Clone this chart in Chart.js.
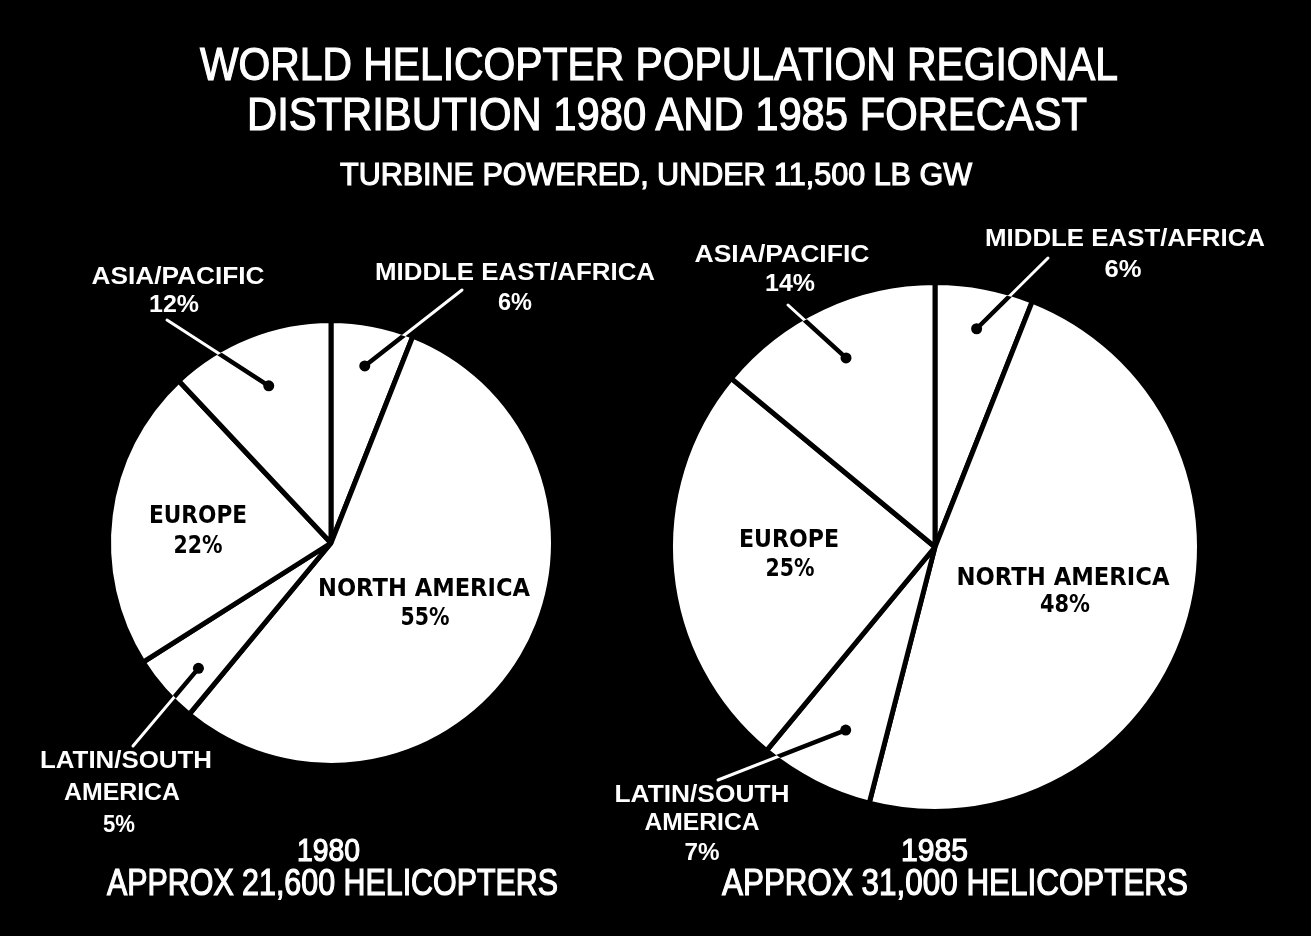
<!DOCTYPE html>
<html><head><meta charset="utf-8">
<script src="https://cdn.jsdelivr.net/npm/chart.js@4"></script>
<style>
html,body{margin:0;padding:0;background:#000;width:1311px;height:936px;overflow:hidden;}
canvas{position:absolute;left:0;top:0;}
.t{position:absolute;color:#fff;font-family:"Liberation Sans",Arial,sans-serif;white-space:nowrap;transform-origin:0 0;line-height:1;}
</style></head><body>
<canvas id="c1" width="1311" height="936"></canvas>
<canvas id="c2" width="1311" height="936"></canvas>
<div id="texts"></div>
<script>
// ---------- DATA ----------
const regions = ["MIDDLE EAST/AFRICA", "NORTH AMERICA", "LATIN/SOUTH AMERICA", "EUROPE", "ASIA/PACIFIC"];
const share1980 = [6, 55, 5, 22, 12];
const share1985 = [6, 48, 7, 25, 14];
const years = ["1980", "1985"];
const fleetTotals = ["21,600", "31,000"];
const titleLines = ["WORLD HELICOPTER POPULATION REGIONAL", "DISTRIBUTION " + years[0] + " AND " + years[1] + " FORECAST"];
const subtitle = "TURBINE POWERED, UNDER 11,500 LB GW";

// ---------- LAYOUT ----------
const regionLines = regions.map(s => s === "LATIN/SOUTH AMERICA" ? ["LATIN/SOUTH", "AMERICA"] : [s]);
const inside = [false, true, false, true, false];

// per chart callout layout: lines [cx, baseline, width], lead start, dot fraction, angle offset
const layout1980 = {
  pad: {left: 106, right: 755, top: 318, bottom: 168},
  items: [
    {i: 0, pos: [[515, 280, 280], [515, 310, 34]], lead: [462, 290], f: 0.81},
    {i: 1, pos: [[424, 596, 212], [425, 625, 49]]},
    {i: 2, pos: [[126, 768, 172], [122, 800, 116], [119, 832, 32]], lead: [133, 746], f: 0.82, da: -2},
    {i: 3, pos: [[198, 523, 98], [198, 553, 49]]},
    {i: 4, pos: [[178, 284, 173], [174, 312, 50]], lead: [167, 320], f: 0.76}
  ]
};
const layout1985 = {
  pad: {left: 668, right: 109, top: 280, bottom: 122},
  items: [
    {i: 0, pos: [[1125, 246, 280], [1123, 277, 37]], lead: [1048, 258], f: 0.84},
    {i: 1, pos: [[1063, 585, 213], [1065, 612, 50]]},
    {i: 2, pos: [[702, 802, 175], [702, 830, 115], [702, 860, 35]], lead: [718, 780], f: 0.77, da: -1},
    {i: 3, pos: [[789, 547, 100], [790, 576, 49]]},
    {i: 4, pos: [[782, 262, 175], [790, 291, 50]], lead: [788, 305], f: 0.79}
  ]
};

function fitText(ctx, txt, cx, base, w, font, color) {
  ctx.save();
  ctx.font = font;
  const m = ctx.measureText(txt).width;
  ctx.translate(cx, base);
  ctx.scale(w / m, 1);
  ctx.textAlign = 'center';
  ctx.textBaseline = 'alphabetic';
  ctx.fillStyle = color;
  ctx.fillText(txt, 0, 0);
  ctx.restore();
}

const calloutPlugin = {
  id: 'callouts',
  afterDatasetsDraw(chart, args, opts) {
    const ctx = chart.ctx;
    const meta = chart.getDatasetMeta(0);
    const data = chart.data.datasets[0].data;
    opts.items.forEach(it => {
      const arc = meta.data[it.i];
      const p = arc.getProps(['x', 'y', 'startAngle', 'endAngle', 'outerRadius'], true);
      if (it.lead) {
        const mid = (p.startAngle + p.endAngle) / 2 + (it.da || 0) * Math.PI / 180;
        const r = p.outerRadius * it.f;
        const dx = p.x + Math.cos(mid) * r, dy = p.y + Math.sin(mid) * r;
        ctx.save();
        ctx.lineCap = 'round';
        ctx.strokeStyle = '#fff';
        ctx.lineWidth = 3;
        ctx.beginPath(); ctx.moveTo(it.lead[0], it.lead[1]); ctx.lineTo(dx, dy); ctx.stroke();
        ctx.beginPath(); ctx.arc(p.x, p.y, p.outerRadius - 3, 0, Math.PI * 2); ctx.clip();
        ctx.strokeStyle = '#000';
        ctx.lineWidth = 4.5;
        ctx.beginPath(); ctx.moveTo(it.lead[0], it.lead[1]); ctx.lineTo(dx, dy); ctx.stroke();
        ctx.fillStyle = '#000';
        ctx.beginPath(); ctx.arc(dx, dy, 5.5, 0, Math.PI * 2); ctx.fill();
        ctx.restore();
      }
      const lines = regionLines[it.i].concat([data[it.i] + '%']);
      const isIn = inside[it.i];
      lines.forEach((txt, k) => {
        const q = it.pos[k];
        fitText(ctx, txt, q[0], q[1], q[2],
          isIn ? 'bold 24px "DejaVu Sans", sans-serif' : 'bold 23px "Liberation Sans", Arial, sans-serif',
          isIn ? '#000' : '#fff');
      });
    });
  }
};

function makePie(id, values, lay) {
  return new Chart(document.getElementById(id), {
    type: 'pie',
    data: {
      labels: regions,
      datasets: [{
        data: values,
        backgroundColor: '#fff',
        borderColor: '#000',
        borderWidth: 5,
        hoverOffset: 0
      }]
    },
    options: {
      responsive: false,
      animation: false,
      events: [],
      layout: {padding: lay.pad},
      plugins: {
        legend: {display: false},
        tooltip: {enabled: false},
        callouts: {items: lay.items}
      }
    },
    plugins: [calloutPlugin]
  });
}
makePie('c1', share1980, layout1980);
makePie('c2', share1985, layout1985);

// ---------- HTML TEXT ----------
const textSpecs = [
  {t: titleLines[0], cx: 659, base: 80, w: 918, fs: 46},
  {t: titleLines[1], cx: 667, base: 130, w: 840, fs: 46},
  {t: subtitle, cx: 656, base: 185, w: 632, fs: 32},
  {t: years[0], cx: 328, base: 861, w: 63, fs: 32},
  {t: "APPROX " + fleetTotals[0] + " HELICOPTERS", cx: 332, base: 896, w: 451, fs: 36},
  {t: years[1], cx: 934, base: 861, w: 67, fs: 32},
  {t: "APPROX " + fleetTotals[1] + " HELICOPTERS", cx: 955, base: 896, w: 466, fs: 36}
];
const holder = document.getElementById('texts');
textSpecs.forEach(s => {
  const el = document.createElement('div');
  el.className = 't';
  el.textContent = s.t;
  el.style.fontSize = s.fs + 'px';
  el.style.webkitTextStroke = '1.2px #fff';
  holder.appendChild(el);
  const nat = el.getBoundingClientRect().width;
  el.style.left = (s.cx - s.w / 2) + 'px';
  el.style.top = (s.base - 0.85 * s.fs) + 'px';
  el.style.transform = 'scaleX(' + (s.w / nat) + ')';
});
</script>
</body></html>
